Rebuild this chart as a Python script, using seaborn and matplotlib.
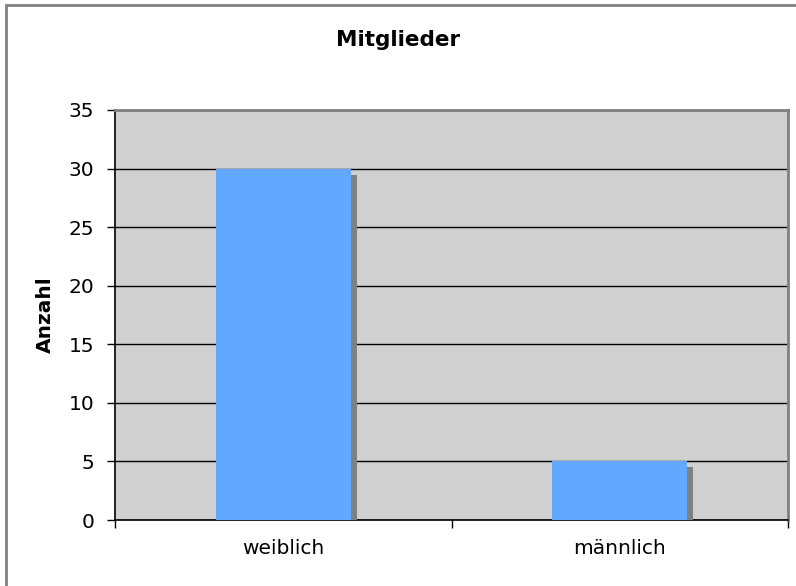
import matplotlib

matplotlib.use("Agg")

import matplotlib.pyplot as plt
import matplotlib.patheffects as pe
import pandas as pd
import seaborn as sns
from matplotlib.patches import Rectangle
from matplotlib.ticker import FixedLocator

CATEGORIES = ["weiblich", "männlich"]
MEMBERS = [30, 5]
Y_TICKS = [0, 5, 10, 15, 20, 25, 30, 35]

TITLE = "Mitglieder"
Y_LABEL = "Anzahl"

BAR_COLOR = "#62A8FF"
SHADOW_COLOR = "#808080"
PLOT_BG = "#D0D0D0"


def main() -> None:
    sns.set_theme(style="white")
    plt.rcParams["font.family"] = ["DejaVu Sans"]
    plt.rcParams["text.color"] = "black"

    df = pd.DataFrame({"Geschlecht": CATEGORIES, "Anzahl": MEMBERS})

    fig = plt.figure(figsize=(7.96, 5.86), dpi=100)
    ax = fig.add_axes([0.1445, 0.1126, 0.8455, 0.6997])
    ax.set_facecolor(PLOT_BG)

    sns.barplot(data=df, x="Geschlecht", y="Anzahl", color=BAR_COLOR,
                width=0.4, saturation=1, ax=ax, zorder=3)
    for bar in ax.patches:
        bar.set_edgecolor("none")
        bar.set_path_effects([
            pe.SimplePatchShadow(offset=(4.3, -4.3), shadow_rgbFace=SHADOW_COLOR, alpha=1),
            pe.Normal(),
        ])

    ax.set_xlim(-0.5, len(CATEGORIES) - 0.5)
    ax.set_ylim(0, 35)
    ax.set_yticks(Y_TICKS)
    ax.yaxis.grid(True, color="black", linewidth=1)
    ax.set_axisbelow(True)

    ax.xaxis.set_minor_locator(FixedLocator([i - 0.5 for i in range(len(CATEGORIES) + 1)]))
    ax.tick_params(axis="x", which="major", length=0, pad=14, labelsize=14.5, labelcolor="black")
    ax.tick_params(axis="x", which="minor", length=6, width=1, color="black", direction="out", bottom=True)
    ax.tick_params(axis="y", length=6, width=1, color="black", direction="out", left=True,
                   pad=9, labelsize=14.5, labelcolor="black")

    for side in ("left", "bottom"):
        ax.spines[side].set_color("black")
        ax.spines[side].set_linewidth(1.2)
    for side in ("top", "right"):
        ax.spines[side].set_color(SHADOW_COLOR)
        ax.spines[side].set_linewidth(2)

    ax.set_xlabel("")
    ax.set_ylabel(Y_LABEL, fontsize=14.5, fontweight="bold", labelpad=10, color="black")
    fig.text(0.5, 1 - 40 / 586, TITLE, ha="center", va="center", fontsize=15.5,
             fontweight="bold", color="black")

    fig.patches.append(Rectangle((6 / 796, -0.05), 1.1, 1 - 5 / 586 + 0.05,
                                 transform=fig.transFigure, fill=False,
                                 edgecolor=SHADOW_COLOR, linewidth=2))

    fig.savefig("out.png", dpi=100)
    plt.close(fig)


if __name__ == "__main__":
    main()
